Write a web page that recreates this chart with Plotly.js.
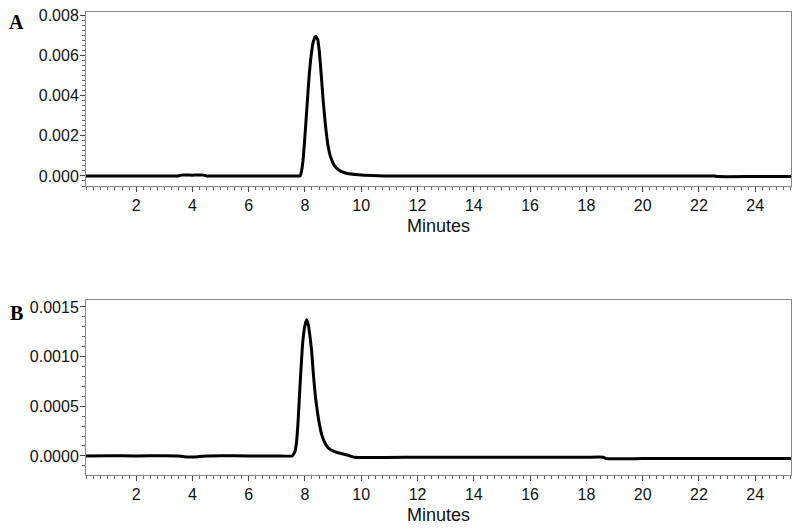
<!DOCTYPE html>
<html>
<head>
<meta charset="utf-8">
<script src="https://cdn.plot.ly/plotly-3.0.1.min.js"></script>
<style>
  html, body { margin: 0; padding: 0; background: #fff; }
  #myDiv { width: 800px; height: 530px; }
</style>
</head>
<body>
<div id="myDiv"></div>
<script>
// panel A trace (minutes, absorbance)
var timeA = [0.22, 1, 2, 3, 3.5, 3.6, 4.0, 4.4, 4.5, 5, 6, 7, 7.5, 7.8, 7.83, 7.88, 7.94, 8.0,
  8.07, 8.15, 8.23, 8.3, 8.38, 8.45, 8.51, 8.58, 8.65, 8.73, 8.82, 8.92, 9.05, 9.25, 9.5, 9.9, 10.4, 10.8,
  11, 12, 14, 16, 18, 20, 22, 22.55, 22.65, 24, 25.27];
var signalA = [0, 0, 0, 0, 0, 0.00004, 0.00004, 0.00004, 0, 0, 0, 0, 0, 0, 0, 0.00025, 0.0009, 0.002,
  0.0034, 0.005, 0.0061, 0.0067, 0.00695, 0.0068, 0.0062, 0.005, 0.0037, 0.0025, 0.0015, 0.0009, 0.0005, 0.00025, 0.00012, 0.00006, 0.00002, 0,
  0, 0, 0, 0, 0, 0, 0, 0, -0.00003, -0.00003, -0.00003];

// panel B trace
var timeB = [0.22, 1, 2, 3, 3.5, 3.7, 4.2, 4.5, 5, 6, 7, 7.55, 7.6, 7.65, 7.7, 7.75, 7.8, 7.86, 7.92, 7.99,
  8.06, 8.12, 8.18, 8.24, 8.3, 8.37, 8.45, 8.52, 8.6, 8.68, 8.83, 9.0, 9.2, 9.5, 9.75, 12, 14, 16, 18, 18.6, 18.7, 20, 22, 24, 25.27];
var signalB = [0, 0.000002, 0, 0.000003, 0, -0.000008, -0.000008, 0, 0.000003, 0, 0, 0, 0.00002, 0.00005, 0.00014, 0.00032, 0.00058, 0.00088, 0.00114, 0.0013,
  0.00137, 0.00132, 0.0012, 0.00105, 0.00082, 0.0006, 0.00043, 0.00031, 0.00021, 0.00015, 0.00008, 0.00005, 0.00003, 0.00001, -0.000013, -0.000013, -0.000013, -0.000013, -0.000013, -0.000013, -0.000027, -0.000027, -0.000027, -0.000027, -0.000027];

var xTickVals = [2, 4, 6, 8, 10, 12, 14, 16, 18, 20, 22, 24];
var yTickValsA = [0, 0.002, 0.004, 0.006, 0.008];
var yTickValsB = [0, 0.0005, 0.0010, 0.0015];

var traceA = {
  x: timeA, y: signalA, xaxis: 'x', yaxis: 'y',
  type: 'scatter', mode: 'lines',
  line: {color: '#000', width: 3, shape: 'spline', smoothing: 0.4},
  hoverinfo: 'skip'
};
var traceB = {
  x: timeB, y: signalB, xaxis: 'x2', yaxis: 'y2',
  type: 'scatter', mode: 'lines',
  line: {color: '#000', width: 3, shape: 'spline', smoothing: 0.4},
  hoverinfo: 'skip'
};

var tickFont = {family: 'Liberation Sans, Arial, sans-serif', size: 16, color: '#111'};
var titleFont = {family: 'Liberation Sans, Arial, sans-serif', size: 18, color: '#111'};

function xAxis(anchor) {
  return {
    anchor: anchor, domain: [0, 1], range: [0.22, 25.27],
    tickvals: xTickVals, ticks: 'outside', ticklen: 5, tickcolor: '#444',
    minor: {dtick: 0.25, tick0: 0, ticks: 'outside', ticklen: 3, tickcolor: '#666'},
    showline: true, linecolor: '#888', linewidth: 1, mirror: true,
    showgrid: false, zeroline: false, tickfont: tickFont,
    title: {text: 'Minutes', font: titleFont, standoff: 6}
  };
}
function yAxis(anchor, domain, range, vals, fmt, minorStep) {
  return {
    anchor: anchor, domain: domain, range: range,
    tickvals: vals, tickformat: fmt, ticks: 'outside', ticklen: 5, tickcolor: '#444',
    ticklabelstandoff: -2,
    minor: {dtick: minorStep, tick0: 0, ticks: 'outside', ticklen: 3, tickcolor: '#666'},
    showline: true, linecolor: '#888', linewidth: 1, mirror: true,
    showgrid: false, zeroline: false, tickfont: tickFont
  };
}

var panelFont = {family: 'Liberation Serif, Times New Roman, serif', size: 20, color: '#000'};

var layout = {
  width: 800, height: 530,
  margin: {l: 86, r: 9, t: 12, b: 55},
  paper_bgcolor: '#fff', plot_bgcolor: '#fff',
  showlegend: false,
  xaxis: xAxis('y'),
  yaxis: yAxis('x', [0.6242, 1], [-0.0005, 0.00815], yTickValsA, '.3f', 0.00025),
  xaxis2: xAxis('y2'),
  yaxis2: yAxis('x2', [0, 0.378], [-0.000192, 0.00157], yTickValsB, '.4f', 0.0001),
  annotations: [
    {text: '<b>A</b>', xref: 'paper', yref: 'paper', x: -0.099, y: 0.978,
     xanchor: 'center', yanchor: 'middle', showarrow: false, font: panelFont},
    {text: '<b>B</b>', xref: 'paper', yref: 'paper', x: -0.099, y: 0.35,
     xanchor: 'center', yanchor: 'middle', showarrow: false, font: panelFont}
  ]
};

Plotly.newPlot('myDiv', [traceA, traceB], layout, {staticPlot: true});
</script>
</body>
</html>
